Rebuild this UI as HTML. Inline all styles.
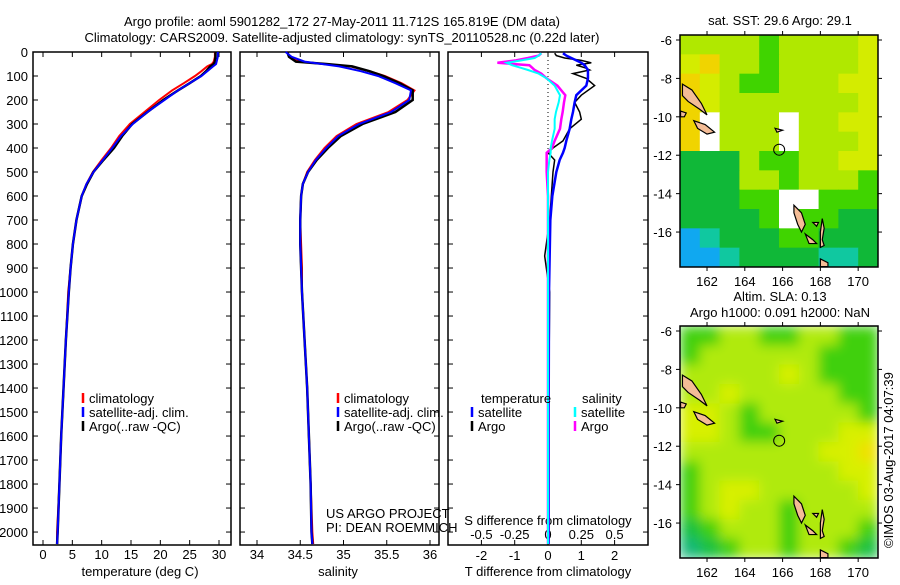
<!DOCTYPE html>
<html><head><meta charset="utf-8"><style>
body{margin:0;background:#fff}
svg text{font-family:"Liberation Sans",sans-serif;font-size:13px;fill:#000}
</style></head><body>
<svg id="s" width="900" height="580" xmlns="http://www.w3.org/2000/svg">
<defs>
<filter id="bl" x="0" y="0" width="1" height="1"><feGaussianBlur stdDeviation="6" edgeMode="duplicate"/></filter>
<clipPath id="clip2"><rect x="680" y="326" width="198" height="232"/></clipPath>
</defs>
<text x="342" y="26" text-anchor="middle" font-size="14">Argo profile: aoml 5901282_172 27-May-2011 11.712S 165.819E (DM data)</text>
<text x="342" y="42" text-anchor="middle" font-size="14">Climatology: CARS2009. Satellite-adjusted climatology: synTS_20110528.nc (0.22d later)</text>
<g id="g"></g>
</svg>
<script>
// ---- data ----
const depthsTS = [0,20,40,50,60,80,100,130,160,200,250,300,350,400,450,500,550,600,700,800,900,1000,1200,1400,1600,1800,2000,2050];
const tempArgo = [29.4,29.4,29.3,29.1,28.5,27.8,26.9,25.0,23.0,20.5,17.8,15.2,13.5,12.1,10.3,8.6,7.5,6.6,5.7,5.1,4.7,4.4,3.9,3.5,3.1,2.8,2.5,2.4];
const tempSat = [29.8,29.8,29.6,29.5,29.0,28.0,27.0,25.0,23.0,20.7,17.8,15.3,13.3,11.8,10.2,8.6,7.4,6.6,5.7,5.1,4.7,4.4,3.9,3.5,3.1,2.8,2.5,2.4];
const tempClim = [29.3,29.3,29.1,28.8,28.0,27.0,25.9,24.0,22.0,19.8,17.3,14.8,13.0,11.6,10.0,8.5,7.4,6.6,5.7,5.1,4.7,4.3,3.9,3.5,3.1,2.8,2.4,2.4];
const salArgo = [34.35,34.37,34.45,34.8,35.1,35.3,35.46,35.65,35.8,35.8,35.6,35.22,34.97,34.82,34.69,34.59,34.53,34.51,34.5,34.5,34.51,34.52,34.55,34.58,34.6,34.62,34.63,34.64];
const salSat = [34.33,34.4,34.55,34.75,34.95,35.2,35.4,35.6,35.78,35.76,35.55,35.18,34.94,34.8,34.68,34.59,34.53,34.51,34.5,34.5,34.51,34.52,34.55,34.58,34.6,34.62,34.63,34.64];
const salClim = [34.35,34.38,34.5,34.78,35.08,35.3,35.48,35.67,35.82,35.74,35.52,35.15,34.92,34.78,34.67,34.58,34.53,34.51,34.5,34.51,34.52,34.52,34.55,34.58,34.6,34.62,34.64,34.65];
const depthsDiff = [5,15,25,35,45,55,65,75,90,110,140,180,210,250,280,320,370,400,420,450,500,600,700,850,1000,1500,2000,2050];
const tDiffSat = [0.45,0.55,0.7,0.85,1.0,1.1,1.15,1.2,1.2,1.2,1.15,0.85,0.8,0.75,0.7,0.65,0.55,0.5,0.45,0.35,0.25,0.13,0.07,0.05,0.03,0.02,0.02,0.02];
const tDiffArgo = [0.2,0.25,0.5,1.0,1.3,0.85,1.1,1.25,0.75,1.15,1.4,1.0,0.8,0.95,1.0,0.65,0.45,0.15,0.0,0.2,0.15,0.1,0.05,-0.1,0.05,0.02,0.0,0.0];
const sDiffSat = [-0.05,-0.07,-0.1,-0.2,-0.31,-0.27,-0.21,-0.15,-0.07,-0.01,0.05,0.09,0.08,0.06,0.05,0.05,0.03,0.02,0.02,0.01,0,0,0,0,0,0,0,0];
const sDiffArgo = [-0.05,-0.07,-0.15,-0.24,-0.38,-0.14,-0.12,-0.1,-0.05,-0.01,0.07,0.13,0.12,0.11,0.10,0.09,0.05,0.03,-0.01,-0.01,-0.01,0,0,0,0,0,0,0];
const depthTicks = [0,100,200,300,400,500,600,700,800,900,1000,1100,1200,1300,1400,1500,1600,1700,1800,1900,2000];
const tempTicks = [0,5,10,15,20,25,30];
const salTicks = [34,34.5,35,35.5,36];
const tDiffTicks = [-2,-1,0,1,2];
const sDiffTicks = [-0.5,-0.25,0,0.25,0.5];
const sDiffTickLabels = ["-0.5","-0.25","0","0.25","0.5"];
const sstGrid = ["LLLLGLLLLY","YOLLGLLLLY","OYLGGLLLYY","OYLLLLLLLY","OWLLLWLLYY","OWLLLWLLLY","DDDLGGLLYY","DDDLLGLLLG","DDDGGWWGGG","DDDDGWGGDD","BCDDDGGDDD","BBCDDDDCCD"];
const slaGrid = ["GGLLGGLLGG","GLLLLLLGGG","LLLLLYLGGG","LLYLLLLLGG","YYLGLLLLLG","YYLGGLLLYY","LLLLLLLYYO","GLLLLLLLYY","GLYYLLLLLY","GLYLLGLLLL","DGLLLGLLLG","CDGLLGLLGD"];
const lonTicks = [162,164,166,168,170];
const latTicks = [-6,-8,-10,-12,-14,-16];
const argoLon = 165.819, argoLat = -11.712;

const NS="http://www.w3.org/2000/svg", G=document.getElementById('g');
function el(t,a,p){const e=document.createElementNS(NS,t);for(const k in a)e.setAttribute(k,a[k]);(p||G).appendChild(e);return e;}
const TOP=52,BOT=545, yD=d=>TOP+d*(BOT-TOP)/2054;
function panel(name,x0,x1){
  const r=el('rect',{x:x0,y:TOP,width:x1-x0,height:BOT-TOP,fill:'none',stroke:'#000','stroke-width':1.5});
  
  
  depthTicks.forEach(d=>{const y=yD(d);
    el('line',{x1:x0,x2:x0+5,y1:y,y2:y,stroke:'#000'});el('line',{x1:x1-5,x2:x1,y1:y,y2:y,stroke:'#000'});});
}
function xTicks(xs,fx,labY){xs.forEach(v=>{const x=fx(v);
  el('line',{x1:x,x2:x,y1:TOP,y2:TOP+5,stroke:'#000'});el('line',{x1:x,x2:x,y1:BOT-5,y2:BOT,stroke:'#000'});
  const t=el('text',{x:x,y:labY,'text-anchor':'middle'});t.textContent=v;
  
  });}
function line(xs,ds,fx,col,w,name){
  const p=el('polyline',{points:xs.map((v,i)=>fx(v)+','+yD(ds[i])).join(' '),fill:'none',stroke:col,'stroke-width':w});
  
  
}
function txt(x,y,s,name,extra,par){const t=el('text',Object.assign({x:x,y:y},extra||{}),par);t.textContent=s;
  
  return t;}
// panel 1
const fT=v=>43+v*(219-43)/30;
panel('temperature-panel',33,231);
depthTicks.forEach(d=>txt(28,yD(d)+5,d,'y-tick-label',{'text-anchor':'end'}));
xTicks(tempTicks,fT,559);
txt(140,576,'temperature (deg C)','x-axis-title-temperature',{'text-anchor':'middle'});
line(tempClim,depthsTS,fT,'#f00',2,'temp-climatology-line');
line(tempArgo,depthsTS,fT,'#000',2.5,'temp-argo-line');
line(tempSat,depthsTS,fT,'#00f',2,'temp-satellite-line');
// panel 2
const fS=v=>257+(v-34)*(430-257)/2;
panel('salinity-panel',240,439);
xTicks(salTicks,fS,559);
txt(338,576,'salinity','x-axis-title-salinity',{'text-anchor':'middle'});
line(salClim,depthsTS,fS,'#f00',2,'sal-climatology-line');
line(salArgo,depthsTS,fS,'#000',2.5,'sal-argo-line');
line(salSat,depthsTS,fS,'#00f',2,'sal-satellite-line');
// legends
function leg(x,y,col,s,name){el('line',{x1:x,x2:x,y1:y-10,y2:y,stroke:col,'stroke-width':2.5});txt(x+6,y,s,name);}
[[83,'temp'],[338,'sal']].forEach(([x,n])=>{leg(x,403,'#f00','climatology',n+'-legend-climatology');leg(x,417,'#00f','satellite-adj. clim.',n+'-legend-satellite');leg(x,431,'#000','Argo(..raw -QC)',n+'-legend-argo');});
txt(326,518,'US ARGO PROJECT','credit-project');
txt(326,532,'PI: DEAN ROEMMICH','credit-pi');
// panel 3
const fDT=v=>548+v*33.3, fDS=v=>548+v*133.2;
panel('difference-panel',448,648);
xTicks(tDiffTicks,fDT,560);
sDiffTicks.forEach((v,i)=>txt(fDS(v),539,sDiffTickLabels[i],'s-diff-tick-label',{'text-anchor':'middle'}));
txt(548,525,'S difference from climatology','s-diff-axis-title',{'text-anchor':'middle'});
txt(548,576,'T difference from climatology','t-diff-axis-title',{'text-anchor':'middle'});
el('line',{x1:548,x2:548,y1:TOP,y2:yD(420),stroke:'#000','stroke-dasharray':'1,3'});
line(tDiffArgo,depthsDiff,fDT,'#000',1.5,'tdiff-argo-line');
line(tDiffSat,depthsDiff,fDT,'#00f',2.5,'tdiff-satellite-line');
line(sDiffArgo,depthsDiff,fDS,'#f0f',2.5,'sdiff-argo-line');
line(sDiffSat,depthsDiff,fDS,'#0ff',2,'sdiff-satellite-line');
txt(481,403,'temperature','diff-legend-temperature-header');
txt(582,403,'salinity','diff-legend-salinity-header');
leg(472,417,'#00f','satellite','diff-legend-t-satellite');leg(472,431,'#000','Argo','diff-legend-t-argo');
leg(575,417,'#0ff','satellite','diff-legend-s-satellite');leg(575,431,'#f0f','Argo','diff-legend-s-argo');
// maps
const COL={Y:'#d4ec00',O:'#f0d400',L:'#b0e800',G:'#40d400',D:'#10b838',C:'#10c8a0',B:'#10a8f0',W:'#ffffff'};
const COL2={Y:'#d8f000',O:'#f0e000',L:'#b0ea10',G:'#40d010',D:'#18c040',C:'#18b878',B:'#10a8f0',W:'#fff'};
const islands=[
 [[160.7,-8.3],[161.2,-8.6],[161.7,-9.3],[162.0,-9.9],[161.6,-9.6],[161.0,-9.2],[160.7,-8.9]],
 [[161.3,-10.2],[161.9,-10.4],[162.4,-10.8],[162.0,-10.9],[161.5,-10.6]],
 [[160.6,-9.7],[160.9,-9.8],[160.8,-10.0],[160.6,-10.0]],
 [[165.6,-10.6],[166.0,-10.7],[165.7,-10.8]],
 [[166.6,-14.6],[167.0,-15.0],[167.2,-15.6],[167.0,-16.0],[166.8,-15.6],[166.6,-15.0]],
 [[167.2,-16.1],[167.6,-16.4],[167.8,-16.6],[167.4,-16.6]],
 [[168.1,-15.3],[168.2,-15.8],[168.1,-16.4],[168.2,-16.7],[168.0,-16.8],[168.0,-16.0]],
 [[168.0,-17.4],[168.4,-17.6],[168.4,-17.8],[168.0,-17.8]],
 [[167.6,-15.5],[167.9,-15.5],[167.8,-15.7]]
];
function map(name,top,grid,col,smooth,title1,title2){
  const L=680,R=878,B=top+232, lon0=160.57,lon1=171.05,lat0=-5.74,lat1=-17.82;
  const fx=v=>L+(v-lon0)*(R-L)/(lon1-lon0), fy=v=>top+(v-lat0)*(B-top)/(lat1-lat0);
  const g=el('g',{});
  const outer=smooth?el('g',{'clip-path':'url(#clip2)'},g):g;
  const cg=smooth?el('g',{filter:'url(#bl)'},outer):g;
  const cw=(R-L)/10,ch=(B-top)/12;
  grid.forEach((row,r)=>row.split('').forEach((c,k)=>el('rect',{x:L+k*cw,y:top+r*ch,width:cw+0.5,height:ch+0.5,fill:col[c]},cg)));
  islands.forEach(p=>{const q=el('polygon',{points:p.map(a=>fx(a[0])+','+fy(a[1])).join(' '),fill:'#f4bc96',stroke:'#000','stroke-width':1.2},g);
    });
  const c=el('circle',{cx:fx(argoLon),cy:fy(argoLat),r:5.5,fill:'none',stroke:'#000','stroke-width':1},g);
  
  el('rect',{x:L,y:top,width:R-L,height:B-top,fill:'none',stroke:'#000','stroke-width':1.5},g);
  lonTicks.forEach(v=>{const x=fx(v);el('line',{x1:x,x2:x,y1:top,y2:top-4,stroke:'#000'},g);el('line',{x1:x,x2:x,y1:B,y2:B+4,stroke:'#000'},g);txt(x,B+19,v,'lon-tick-label',{'text-anchor':'middle'},g);});
  latTicks.forEach(v=>{const y=fy(v);el('line',{x1:L-4,x2:L,y1:y,y2:y,stroke:'#000'},g);el('line',{x1:R,x2:R+4,y1:y,y2:y,stroke:'#000'},g);txt(L-8,y+5,v,'lat-tick-label',{'text-anchor':'end'},g);});
  if(title1)txt(780,top-(title2?25:10),title1,name+'-title',{'text-anchor':'middle'},g);
  if(title2)txt(780,top-9,title2,name+'-subtitle',{'text-anchor':'middle'},g);
}
map('sst-map',35,sstGrid,COL,false,'sat. SST: 29.6 Argo: 29.1');
map('sla-map',326,slaGrid,COL2,true,'Altim. SLA: 0.13','Argo h1000: 0.091 h2000: NaN');
txt(0,0,'©IMOS 03-Aug-2017 04:07:39','copyright-stamp',{transform:'translate(893,548) rotate(-90)'});
</script>
</body></html>
